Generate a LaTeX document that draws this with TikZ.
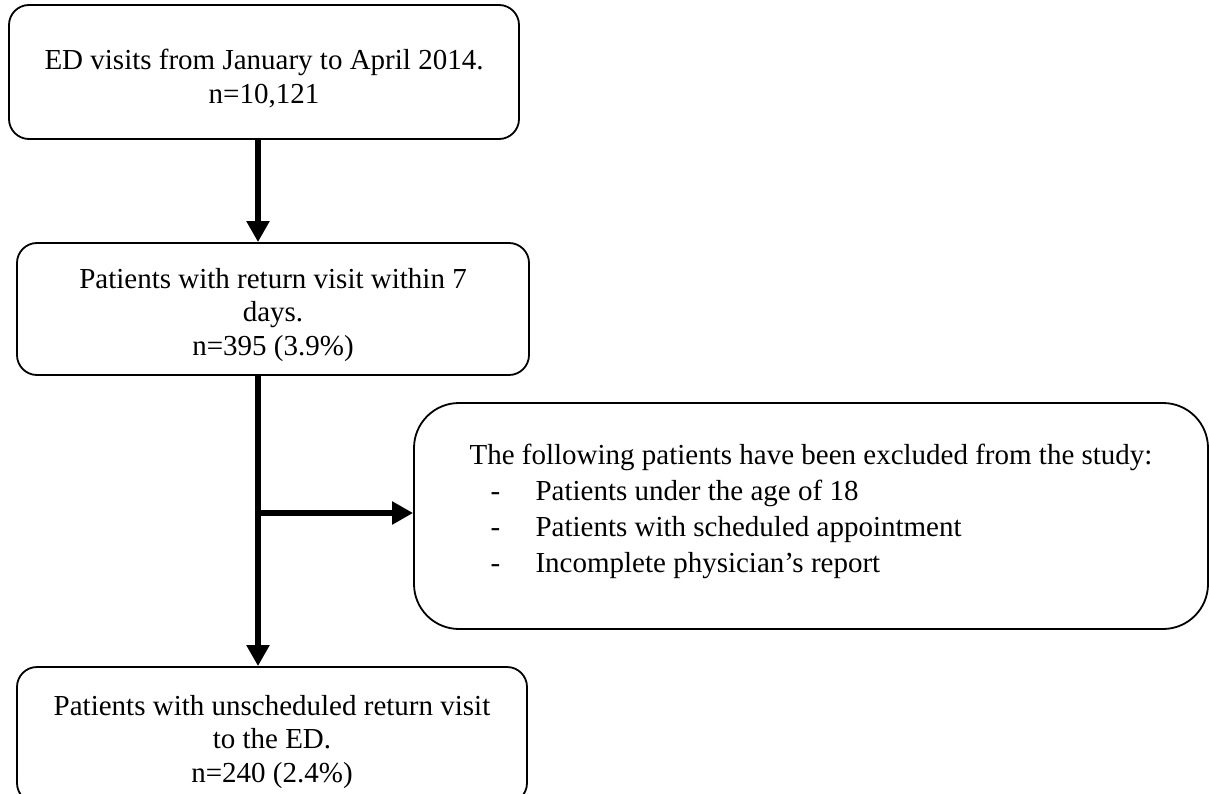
\documentclass[tikz,border=0pt]{standalone}
\usepackage{fontspec}
\setmainfont{Liberation Serif}
\usetikzlibrary{arrows.meta,calc}
\begin{document}
\begin{tikzpicture}[x=1pt,y=-1pt,
  flowbox/.style={draw=black,line width=1.8pt,rounded corners=20pt,inner sep=0pt},
  exclbox/.style={draw=black,line width=1.8pt,rounded corners=45pt,inner sep=0pt},
  flowtext/.style={align=center,inner sep=0pt,font=\fontsize{29}{33.5}\selectfont},
  excltext/.style={align=left,inner sep=0pt,font=\fontsize{29}{36}\selectfont},
  thickarrow/.style={line width=6.5pt,-{Triangle[length=21pt,width=22pt]}}]
\useasboundingbox[fill=white] (0,0) rectangle (1209,794);
% boxes
\node[flowbox,minimum width=510pt,minimum height=134pt] (b1) at (264,72) {};
\node[flowbox,minimum width=512pt,minimum height=132pt] (b2) at (273,309) {};
\node[exclbox,minimum width=794pt,minimum height=226pt] (b3) at (811,516) {};
\node[flowbox,minimum width=510pt,minimum height=136pt] (b4) at (272,735) {};
% texts
\node[flowtext] (t1) at (264,78.5)
  {ED visits from January to April 2014.\\n=10,121};
\node[flowtext] (t2) at (273,315)
  {Patients with return visit within 7\\days.\\n=395 (3.9\%)};
\node[excltext] (t3) at (811,511.5)
  {The following patients have been excluded from the study:\\
   \hspace*{21pt}\makebox[45pt][l]{-}Patients under the age of 18\\
   \hspace*{21pt}\makebox[45pt][l]{-}Patients with scheduled appointment\\
   \hspace*{21pt}\makebox[45pt][l]{-}Incomplete physician’s report};
\node[flowtext] (t4) at (272,742)
  {Patients with unscheduled return visit\\to the ED.\\n=240 (2.4\%)};
% connectors
\coordinate (spine) at (258,0);
\coordinate (branch) at (258,513);
\draw[thickarrow] (b1.south -| spine) -- (b2.north -| spine);
\draw[thickarrow] (b2.south -| spine) -- (b4.north -| spine);
\draw[thickarrow] (branch) -- (branch -| b3.west);
\end{tikzpicture}
\end{document}
